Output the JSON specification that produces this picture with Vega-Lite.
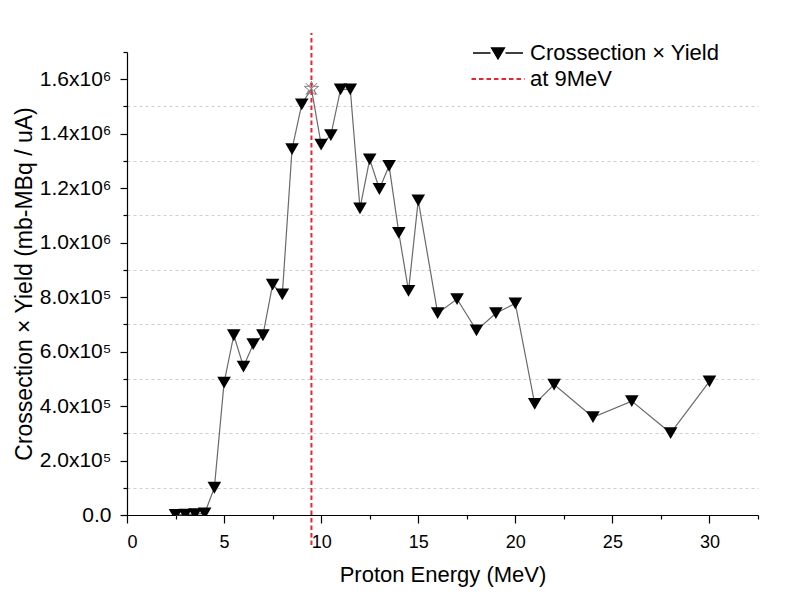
{
  "$schema": "https://vega.github.io/schema/vega-lite/v6.json",
  "width": 631,
  "height": 463,
  "autosize": {"type": "none"},
  "padding": {"left": 127, "top": 52, "right": 44, "bottom": 84},
  "background": "white",
  "config": {
    "view": {"stroke": null},
    "font": "Liberation Sans",
    "axis": {
      "labelFont": "Liberation Sans",
      "titleFont": "Liberation Sans",
      "labelColor": "black",
      "titleColor": "black",
      "titleFontWeight": "normal",
      "domainColor": "black",
      "tickColor": "black",
      "domainWidth": 1.2,
      "tickWidth": 1.2
    },
    "legend": {
      "labelFont": "Liberation Sans",
      "labelFontSize": 22,
      "labelColor": "black",
      "labelLimit": 400,
      "padding": 0
    }
  },
  "datasets": {
    "main": [
      {"E": 2.5, "V": 500, "kind": "tri"},
      {"E": 3, "V": 1500, "kind": "tri"},
      {"E": 3.5, "V": 3000, "kind": "tri"},
      {"E": 4, "V": 6000, "kind": "tri"},
      {"E": 4.5, "V": 100000, "kind": "tri"},
      {"E": 5, "V": 486000, "kind": "tri"},
      {"E": 5.5, "V": 660000, "kind": "tri"},
      {"E": 6, "V": 545000, "kind": "tri"},
      {"E": 6.5, "V": 627000, "kind": "tri"},
      {"E": 7, "V": 660000, "kind": "tri"},
      {"E": 7.5, "V": 846000, "kind": "tri"},
      {"E": 8, "V": 810000, "kind": "tri"},
      {"E": 8.5, "V": 1343000, "kind": "tri"},
      {"E": 9, "V": 1508000, "kind": "tri"},
      {"E": 9.5, "V": 1565000, "kind": "star"},
      {"E": 10, "V": 1360000, "kind": "tri"},
      {"E": 10.5, "V": 1395000, "kind": "tri"},
      {"E": 11, "V": 1563000, "kind": "tri"},
      {"E": 11.5, "V": 1563000, "kind": "tri"},
      {"E": 12, "V": 1126000, "kind": "tri"},
      {"E": 12.5, "V": 1306000, "kind": "tri"},
      {"E": 13, "V": 1197000, "kind": "tri"},
      {"E": 13.5, "V": 1282000, "kind": "tri"},
      {"E": 14, "V": 1036000, "kind": "tri"},
      {"E": 14.5, "V": 823000, "kind": "tri"},
      {"E": 15, "V": 1155000, "kind": "tri"},
      {"E": 16, "V": 741000, "kind": "tri"},
      {"E": 17, "V": 793000, "kind": "tri"},
      {"E": 18, "V": 678000, "kind": "tri"},
      {"E": 19, "V": 741000, "kind": "tri"},
      {"E": 20, "V": 777000, "kind": "tri"},
      {"E": 21, "V": 408000, "kind": "tri"},
      {"E": 22, "V": 479000, "kind": "tri"},
      {"E": 24, "V": 359000, "kind": "tri"},
      {"E": 26, "V": 418000, "kind": "tri"},
      {"E": 28, "V": 301000, "kind": "tri"},
      {"E": 30, "V": 491000, "kind": "tri"}
    ],
    "marker": [{"energy": 9.5}]
  },
  "layer": [
    {
      "data": {"name": "main"},
      "mark": {"type": "line", "color": "#6a6a6a", "strokeWidth": 1.2},
      "encoding": {
        "x": {
          "field": "E", "type": "quantitative",
          "scale": {"domain": [0, 32.5], "nice": false, "zero": false},
          "axis": {
            "orient": "bottom",
            "values": [0, 5, 10, 15, 20, 25, 30],
            "tickSize": 8,
            "labelFontSize": 18,
            "labelPadding": 10,
            "grid": false,
            "title": "Proton Energy (MeV)",
            "titleFontSize": 22,
            "titlePadding": 13
          }
        },
        "y": {
          "field": "V", "type": "quantitative",
          "scale": {"domain": [0, 1700000], "nice": false, "zero": false},
          "axis": {
            "orient": "left",
            "values": [0, 200000, 400000, 600000, 800000, 1000000, 1200000, 1400000, 1600000],
            "tickSize": 7,
            "labelFontSize": 21,
            "labelPadding": 9,
            "labelExpr": "datum.value == 0 ? '0.0' : (datum.value < 1000000 ? format(datum.value/100000, '.1f') + 'x10⁵' : format(datum.value/1000000, '.1f') + 'x10⁶')",
            "grid": false,
            "title": "Crossection × Yield (mb-MBq / uA)",
            "titleFontSize": 23,
            "titlePadding": 3
          }
        }
      }
    },
    {
      "data": {"name": "main"},
      "transform": [{"filter": "datum.kind == 'tri'"}],
      "mark": {"type": "point", "shape": "triangle-down", "filled": true, "size": 185, "opacity": 1, "clip": true},
      "encoding": {
        "x": {
          "field": "E", "type": "quantitative",
          "axis": {
            "orient": "bottom",
            "values": [2.5, 7.5, 12.5, 17.5, 22.5, 27.5, 32.5],
            "tickSize": 4,
            "labels": false,
            "domain": false,
            "grid": false,
            "title": null
          }
        },
        "y": {
          "field": "V", "type": "quantitative",
          "axis": {
            "orient": "left",
            "values": [100000, 300000, 500000, 700000, 900000, 1100000, 1300000, 1500000, 1700000],
            "tickSize": 4,
            "labels": false,
            "domain": false,
            "grid": true,
            "gridColor": {"condition": {"test": "datum.value > 1600000", "value": "transparent"}, "value": "#cfcfcf"},
            "gridDash": [3, 3],
            "gridWidth": 1,
            "title": null
          }
        },
        "color": {
          "datum": "Crossection × Yield",
          "scale": {"domain": ["Crossection × Yield"], "range": ["black"]},
          "legend": {
            "title": null,
            "orient": "none",
            "legendX": 360,
            "legendY": -10,
            "symbolSize": 400,
            "symbolType": "M-2.5,0H-0.75M0.75,0H2.5M-0.65,-0.5H0.65L0,0.6Z",
            "symbolFillColor": "black",
            "symbolStrokeColor": "black",
            "symbolStrokeWidth": 1.3,
            "symbolOpacity": 1,
            "labelOffset": 21
          }
        }
      }
    },
    {
      "data": {"name": "main"},
      "transform": [{"filter": "datum.kind == 'star'"}],
      "mark": {
        "type": "point",
        "shape": "M0,-1L0.24,-0.33L0.95,-0.31L0.38,0.12L0.59,0.81L0,0.4L-0.59,0.81L-0.38,0.12L-0.95,-0.31L-0.24,-0.33Z M-0.75,-0.75L0.75,0.75M-0.75,0.75L0.75,-0.75",
        "filled": false,
        "size": 230,
        "color": "#808080",
        "strokeWidth": 1,
        "opacity": 1
      },
      "encoding": {
        "x": {"field": "E", "type": "quantitative", "axis": null},
        "y": {"field": "V", "type": "quantitative", "axis": null}
      }
    },
    {
      "data": {"name": "marker"},
      "mark": {"type": "rule", "strokeDash": [4.5, 3], "strokeWidth": 2, "clip": false},
      "encoding": {
        "x": {"field": "energy", "type": "quantitative", "axis": null},
        "y": {"datum": -110000, "type": "quantitative", "axis": null},
        "y2": {"datum": 1770000},
        "color": {
          "datum": "at 9MeV",
          "scale": {"domain": ["at 9MeV"], "range": ["#e8262f"]},
          "legend": {
            "title": null,
            "orient": "none",
            "legendX": 360,
            "legendY": 16,
            "symbolSize": 400,
            "symbolType": "M-2.65,0H2.65",
            "symbolStrokeColor": "#e8262f",
            "symbolStrokeWidth": 2,
            "symbolDash": [4.5, 3],
            "symbolOpacity": 1,
            "labelOffset": 21
          }
        }
      }
    }
  ],
  "resolve": {
    "scale": {"x": "shared", "y": "shared", "color": "independent"},
    "axis": {"x": "independent", "y": "independent"},
    "legend": {"color": "independent"}
  }
}
